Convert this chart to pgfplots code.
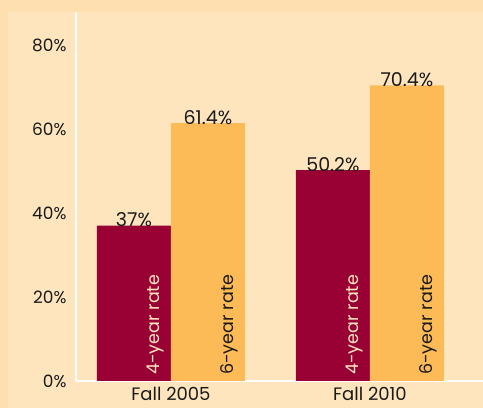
\documentclass[border=0pt]{standalone}
\usepackage{fontspec}
\setmainfont{Poppins}
\usepackage{pgfplots}
\pgfplotsset{compat=1.18}
\definecolor{outerbg}{HTML}{FDDFB0}
\definecolor{innerbg}{HTML}{FEE5BE}
\definecolor{maroon}{HTML}{990033}
\definecolor{gold}{HTML}{FDBB58}
\definecolor{txt}{HTML}{1A1A1A}
\begin{document}
\begin{tikzpicture}[x=1pt,y=1pt]
\fill[outerbg] (0,0) rectangle (483,408);
\fill[innerbg] (8,0) rectangle (483,396);
\useasboundingbox (0,0) rectangle (483,408);
\begin{axis}[
  at={(76pt,27pt)}, anchor=south west,
  scale only axis, width=407pt, height=369pt,
  xmin=-0.477, xmax=1.568, ymin=0, ymax=87.86,
  ybar=0pt, bar width=74pt,
  axis x line*=bottom, axis y line*=left,
  axis line style={white, line width=1.5pt, -},
  major tick length=0pt,
  ytick={0,20,40,60,80},
  yticklabel={\pgfmathprintnumber{\tick}\%},
  /pgf/number format/assume math mode=true,
  xtick={0,1}, xticklabels={Fall 2005, Fall 2010},
  yticklabel style={font=\fontsize{17}{17}\selectfont, text=txt, xshift=-6pt},
  xticklabel style={font=\fontsize{18}{18}\selectfont, text=txt, yshift=-2.5pt},
  clip=false,
  nodes near coords={\pgfmathprintnumber{\pgfplotspointmeta}\%},
  every node near coord/.append style={font=\fontsize{19}{19}\selectfont, text=txt, inner sep=0pt, yshift=-1.5pt},
]
\addplot[fill=maroon, draw=none] coordinates {(0,37) (1,50.2)};
\addplot[fill=gold, draw=none] coordinates {(0,61.4) (1,70.4)};
\node[rotate=90, anchor=base west, text=innerbg, font=\fontsize{17.5}{17.5}\selectfont, inner sep=0pt] at ([xshift=-11pt,yshift=6pt]axis cs:0,0) {4-year rate};
\node[rotate=90, anchor=base west, text=txt, font=\fontsize{17.5}{17.5}\selectfont, inner sep=0pt] at ([xshift=63pt,yshift=6pt]axis cs:0,0) {6-year rate};
\node[rotate=90, anchor=base west, text=innerbg, font=\fontsize{17.5}{17.5}\selectfont, inner sep=0pt] at ([xshift=-11pt,yshift=6pt]axis cs:1,0) {4-year rate};
\node[rotate=90, anchor=base west, text=txt, font=\fontsize{17.5}{17.5}\selectfont, inner sep=0pt] at ([xshift=63pt,yshift=6pt]axis cs:1,0) {6-year rate};
\end{axis}
\end{tikzpicture}
\end{document}
